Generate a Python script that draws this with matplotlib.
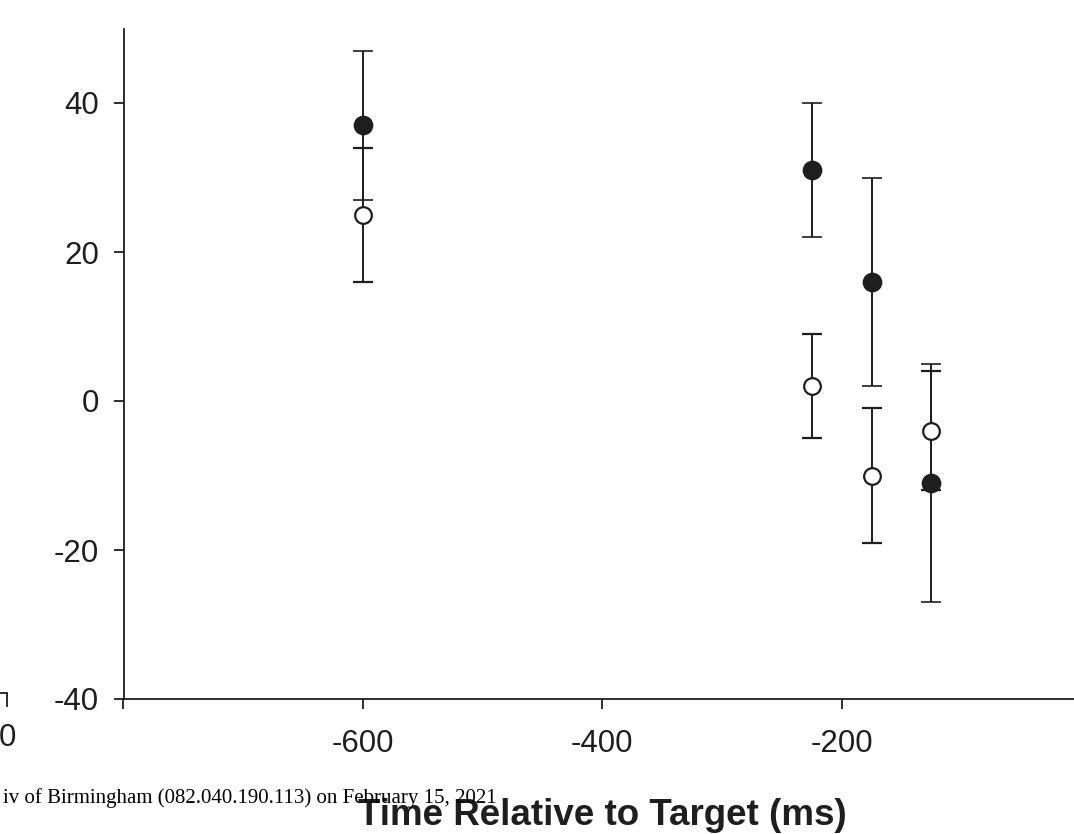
import matplotlib.pyplot as plt

plt.rcParams['font.family'] = ['Liberation Sans', 'DejaVu Sans']
plt.rcParams['axes.unicode_minus'] = False

# values (filled = one condition, open = the other)
time_ms = [-600, -225, -175, -125]
filled_vals = [37, 31, 16, -11]
filled_err = [10, 9, 14, 16]
open_vals = [25, 2, -10, -4]
open_err = [9, 7, 9, 8]

x_ticks = [-800, -600, -400, -200, 0]
x_tick_labels = ['', '-600', '-400', '-200', '0']
y_ticks = [-40, -20, 0, 20, 40]

ink = '#1e1e1e'
W, H = 1074, 834

fig = plt.figure(figsize=(W / 100, H / 100), dpi=100)

# main panel (right end of the x axis runs past the crop)
ax_h = (699 - 28.5)
ax = fig.add_axes([123.5 / W, 135 / H, (1081 - 123.5) / W, ax_h / H])

ax.errorbar(time_ms, filled_vals, yerr=filled_err, fmt='o', ms=13,
            mfc=ink, mec=ink, mew=1.2, ecolor=ink, elinewidth=1.4,
            capsize=7.5, capthick=1.4, zorder=3)
ax.errorbar(time_ms, open_vals, yerr=open_err, fmt='o', ms=12,
            mfc='white', mec=ink, mew=1.6, ecolor=ink, elinewidth=1.4,
            capsize=7.5, capthick=1.4, zorder=4)

ax.set_xlim(-800, 0)
ax.set_ylim(-40, 50)
ax.set_xticks(x_ticks)
ax.set_xticklabels(x_tick_labels)
ax.set_yticks(y_ticks)
for s in ['top', 'right']:
    ax.spines[s].set_visible(False)
for s in ['left', 'bottom']:
    ax.spines[s].set_linewidth(1.3)
    ax.spines[s].set_color(ink)
ax.tick_params(axis='both', direction='out', length=7.5, width=1.3,
               color=ink, labelcolor=ink, labelsize=22.5)
ax.tick_params(axis='y', pad=10)
ax.tick_params(axis='x', pad=14)
ax.set_xlabel('Time Relative to Target (ms)', fontsize=26.5,
              fontweight='bold', color=ink, va='baseline')
ax.xaxis.set_label_coords(0.5, -(825 - 699) / ax_h)

# sliver of the neighbouring panel at the left edge
ax2 = fig.add_axes([(7 - 957) / W, (834 - 692.5) / H, 957 / W, 0.3])
ax2.set_facecolor('none')
ax2.set_xlim(-800, 0)
ax2.set_xticks([0])
ax2.set_xticklabels(['0'])
ax2.set_yticks([])
for s in ['top', 'right', 'left']:
    ax2.spines[s].set_visible(False)
ax2.spines['bottom'].set_linewidth(1.3)
ax2.spines['bottom'].set_color(ink)
ax2.tick_params(axis='x', direction='out', length=10, width=1.3,
                color=ink, labelcolor=ink, labelsize=22.5, pad=12)

# download stamp overlapping the figure
fig.text(3 / W, 1 - 803 / H,
         'iv of Birmingham (082.040.190.113) on February 15, 2021',
         family=['Liberation Serif', 'DejaVu Serif'], fontsize=15,
         color='black', va='baseline', ha='left')

fig.savefig('out.png', dpi=100)
